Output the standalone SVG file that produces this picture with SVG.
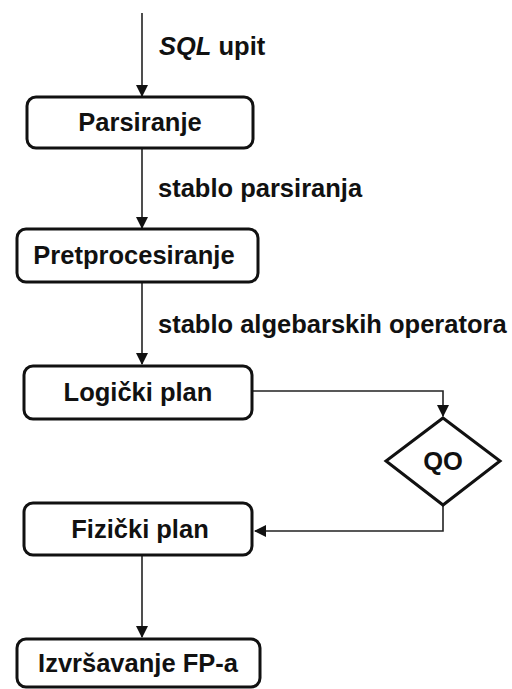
<svg xmlns="http://www.w3.org/2000/svg" width="512" height="689" viewBox="0 0 512 689">
<style>
.box{fill:#fff;stroke:#111;stroke-width:3}
.t{font-family:"Liberation Sans",Arial,sans-serif;font-weight:bold;font-size:25.5px;fill:#111}
.c{text-anchor:middle}
.ln{fill:none;stroke:#222;stroke-width:1.6}
</style>
<defs>
<marker id="ah" markerWidth="12" markerHeight="12" refX="11" refY="6" orient="auto" markerUnits="userSpaceOnUse">
<path d="M0,0 L12,6 L0,12 Z" fill="#111"/>
</marker>
</defs>
<rect width="512" height="689" fill="#fff"/>
<g id="connectors">
<line class="ln" x1="142" y1="13" x2="142" y2="96" marker-end="url(#ah)"/>
<line class="ln" x1="142" y1="148" x2="142" y2="228" marker-end="url(#ah)"/>
<line class="ln" x1="142" y1="282" x2="142" y2="364" marker-end="url(#ah)"/>
<polyline class="ln" points="252,391 443,391 443,416" marker-end="url(#ah)"/>
<polyline class="ln" points="443,505 443,531 255,531" marker-end="url(#ah)"/>
<line class="ln" x1="142" y1="555" x2="142" y2="637" marker-end="url(#ah)"/>
<text class="t" x="159" y="55"><tspan font-style="italic">SQL</tspan> upit</text>
<text class="t" x="158" y="197">stablo parsiranja</text>
<text class="t" x="158" y="333">stablo algebarskih operatora</text>
</g>
<g id="parsiranje">
<rect class="box" x="27" y="97" width="226" height="51" rx="9"/>
<text class="t c" x="140" y="131">Parsiranje</text>
</g>
<g id="pretprocesiranje">
<rect class="box" x="17" y="229" width="241" height="53" rx="9"/>
<text class="t c" x="134" y="264">Pretprocesiranje</text>
</g>
<g id="logicki">
<rect class="box" x="24" y="366" width="228" height="53" rx="9"/>
<text class="t c" x="138" y="401">Logički plan</text>
</g>
<g id="qo">
<polygon points="443,418 500,461 443,505 386,461" fill="#fff" stroke="#111" stroke-width="3"/>
<text class="t c" x="443" y="470">QO</text>
</g>
<g id="fizicki">
<rect class="box" x="24" y="503" width="228" height="52" rx="9"/>
<text class="t c" x="140" y="538">Fizički plan</text>
</g>
<g id="izvrsavanje">
<rect class="box" x="17" y="639" width="243" height="48" rx="9"/>
<text class="t c" x="138" y="672">Izvršavanje FP-a</text>
</g>
</svg>
